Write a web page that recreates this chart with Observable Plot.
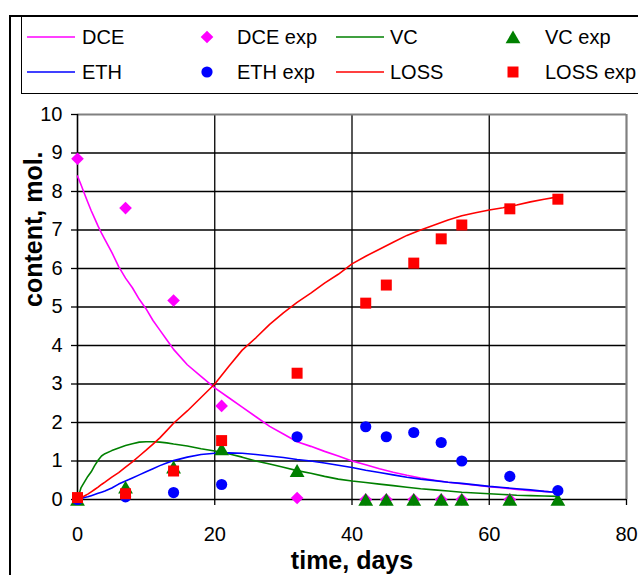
<!DOCTYPE html>
<html><head><meta charset="utf-8">
<script src="https://cdn.jsdelivr.net/npm/d3@7"></script>
<script src="https://cdn.jsdelivr.net/npm/@observablehq/plot@0.6"></script>
<style>
body{margin:0;background:#fff;font-family:"Liberation Sans",Arial,sans-serif;}
#wrap{position:relative;width:638px;height:575px;overflow:hidden;background:#fff;}
#frame{position:absolute;left:9px;top:15px;width:700px;height:700px;border-left:2px solid #000;border-top:2px solid #000;}
#legend{position:absolute;left:21px;top:16px;width:700px;height:76px;border:1.5px solid #000;}
.lt{position:absolute;font-size:20px;line-height:24px;height:24px;white-space:nowrap;color:#000;}
.ls{position:absolute;overflow:visible;}
#chart{position:absolute;left:0;top:95px;}
</style></head>
<body><div id="wrap"><div id="frame"></div><div id="legend"></div><div id="chart"></div></div>
<script>
// ---- data ----
const xDomain = [0, 80];
const yDomain = [0, 10];
const xTicks = [0, 20, 40, 60, 80];
const yTicks = [0, 1, 2, 3, 4, 5, 6, 7, 8, 9, 10];
const xGrid = [20, 40, 60];
const yGrid = [1, 2, 3, 4, 5, 6, 7, 8, 9];
const xTitle = "time, days";
const yTitle = "content, mol.";

// model time grid (days)
const tModel = [0,0.5,1,1.5,2,2.5,3,3.5,4,5,6,7,8,9,10,11,12,13,14,16,18,20,22,24,26,28,30,32,34,36,38,40,42,44,46,48,50,52,54,56,58,60,62,64,66,68,70];
const dceModel = [8.4,8.18,7.95,7.72,7.5,7.3,7.1,6.92,6.75,6.42,6.05,5.75,5.5,5.2,4.95,4.65,4.4,4.15,3.9,3.5,3.2,2.9,2.65,2.4,2.15,1.9,1.7,1.5,1.38,1.25,1.13,1.0,0.9,0.8,0.71,0.63,0.56,0.5,0.45,0.41,0.37,0.33,0.3,0.26,0.23,0.21,0.18];
const vcModel = [0,0.3,0.45,0.6,0.72,0.88,1.02,1.13,1.19,1.27,1.34,1.4,1.45,1.49,1.5,1.5,1.49,1.47,1.44,1.39,1.32,1.26,1.19,1.1,1.0,0.92,0.84,0.75,0.68,0.6,0.53,0.48,0.44,0.4,0.36,0.32,0.28,0.25,0.22,0.19,0.17,0.15,0.13,0.11,0.1,0.09,0.08];
const ethModel = [0,0.02,0.05,0.07,0.1,0.13,0.16,0.19,0.22,0.3,0.4,0.48,0.56,0.64,0.72,0.8,0.88,0.95,1.01,1.1,1.17,1.2,1.21,1.2,1.17,1.13,1.09,1.04,1.0,0.95,0.89,0.83,0.76,0.7,0.64,0.58,0.53,0.49,0.45,0.42,0.38,0.34,0.31,0.28,0.25,0.21,0.18];
const lossModel = [0,0.04,0.09,0.14,0.2,0.26,0.32,0.39,0.45,0.58,0.7,0.84,0.98,1.13,1.28,1.44,1.6,1.79,1.98,2.3,2.65,3.0,3.45,3.88,4.2,4.55,4.85,5.12,5.36,5.62,5.85,6.12,6.32,6.5,6.68,6.86,7.0,7.13,7.26,7.37,7.45,7.52,7.58,7.65,7.73,7.8,7.86];

// experimental
const tExp = [0, 7, 14, 21, 32, 42, 45, 49, 53, 56, 63, 70];
const dceExp = [8.85, 7.57, 5.17, 2.43, 0.04, 0, 0, 0, 0, 0, 0, null];
const vcExp = [0, 0.32, 0.84, 1.31, 0.75, 0, 0, 0, 0, 0, 0, 0];
const ethExp = [0, 0.07, 0.18, 0.39, 1.63, 1.89, 1.63, 1.74, 1.48, 1.0, 0.6, 0.23];
const lossExp = [0.05, 0.15, 0.74, 1.53, 3.28, 5.1, 5.57, 6.14, 6.77, 7.13, 7.55, 7.8];

const colDCE = "#FF00FF", colVC = "#008000", colETH = "#0000FF", colLOSS = "#FF0000";

// legend (row-wise, 4 columns)
const legendLabels = ["DCE", "DCE exp", "VC", "VC exp", "ETH", "ETH exp", "LOSS", "LOSS exp"];
const legendColors = [colDCE, colDCE, colVC, colVC, colETH, colETH, colLOSS, colLOSS];
const legendKinds = ["line", "diamond2", "line", "triangle", "line", "circle", "line", "square"];

const font = '"Liberation Sans", Arial, sans-serif';
const symR = {diamond2: 5.7, triangle: 5.5, circle: 5.6, square: 6.2};
const symDy = {diamond2: 0, triangle: 2, circle: 0, square: 0};
const d3Sym = {diamond2: d3.symbolDiamond2, triangle: d3.symbolTriangle, circle: d3.symbolCircle, square: d3.symbolSquare};

// ---- legend ----
const wrap = document.getElementById("wrap");
const colSym = [51, 207, 360, 513];
const colText = [82, 237, 390, 545];
const rowY = [37, 72];
legendLabels.forEach((lab, i) => {
  const c = i % 4, r = Math.floor(i / 4);
  const kind = legendKinds[i];
  const svg = d3.create("svg").attr("class", "ls").attr("width", 50).attr("height", 20)
    .style("left", (colSym[c] - 25) + "px").style("top", (rowY[r] - 10) + "px");
  if (kind === "line") {
    svg.append("line").attr("x1", 1).attr("x2", 49).attr("y1", 10).attr("y2", 10)
      .attr("stroke", legendColors[i]).attr("stroke-width", 1.5);
  } else {
    const R = symR[kind];
    svg.append("path").attr("transform", `translate(25,${10 + symDy[kind]})`)
      .attr("d", d3.symbol(d3Sym[kind], Math.PI * R * R)())
      .attr("fill", legendColors[i]);
  }
  wrap.appendChild(svg.node());
  const t = document.createElement("div");
  t.className = "lt";
  t.textContent = lab;
  t.style.left = colText[c] + "px";
  t.style.top = (rowY[r] - 12) + "px";
  wrap.appendChild(t);
});

// ---- chart ----
const lineSpec = [[dceModel, colDCE], [vcModel, colVC], [ethModel, colETH], [lossModel, colLOSS]];
const dotSpec = [[dceExp, colDCE, "diamond2"], [vcExp, colVC, "triangle"], [ethExp, colETH, "circle"], [lossExp, colLOSS, "square"]];

const chart = Plot.plot({
  width: 638, height: 480,
  marginLeft: 77, marginRight: 12, marginTop: 19, marginBottom: 76,
  x: {domain: xDomain},
  y: {domain: yDomain},
  style: {fontFamily: font, fontSize: "20px", color: "#000", background: "transparent", overflow: "visible"},
  marks: [
    Plot.gridY(yGrid, {stroke: "#000", strokeOpacity: 1, strokeWidth: 1.3}),
    Plot.gridX(xGrid, {stroke: "#000", strokeOpacity: 1, strokeWidth: 1.3}),
    Plot.ruleY([yDomain[1]], {stroke: "#808080", strokeWidth: 2.2}),
    Plot.ruleX([xDomain[1]], {stroke: "#808080", strokeWidth: 2.2}),
    Plot.axisY(yTicks, {tickSize: 6, tickPadding: 9, label: null, fontSize: 20, strokeWidth: 1.3, tickFormat: d => String(d)}),
    Plot.axisX(xTicks, {tickSize: 6, tickPadding: 21, label: null, fontSize: 20, strokeWidth: 1.3, tickFormat: d => String(d)}),
    Plot.ruleX([xDomain[0]], {stroke: "#000", strokeWidth: 1.6}),
    Plot.ruleY([yDomain[0]], {stroke: "#000", strokeWidth: 1.6}),
    ...lineSpec.map(([vals, col]) => Plot.line(tModel, {x: d => d, y: (d, i) => vals[i], stroke: col, strokeWidth: 1.6})),
    ...dotSpec.map(([vals, col, sym]) => Plot.dot(tExp, {x: d => d, y: (d, i) => vals[i], symbol: sym, r: symR[sym], dy: symDy[sym], fill: col, stroke: "none"})),
    Plot.text([xTitle], {text: d => d, frameAnchor: "bottom", dy: 69, lineAnchor: "bottom", fontWeight: "bold", fontSize: 25, fill: "#000"}),
    Plot.text([yTitle], {text: d => d, frameAnchor: "left", dx: -36, rotate: -90, lineAnchor: "bottom", fontWeight: "bold", fontSize: 25, fill: "#000"})
  ]
});
document.getElementById("chart").appendChild(chart);
</script>
</body></html>
